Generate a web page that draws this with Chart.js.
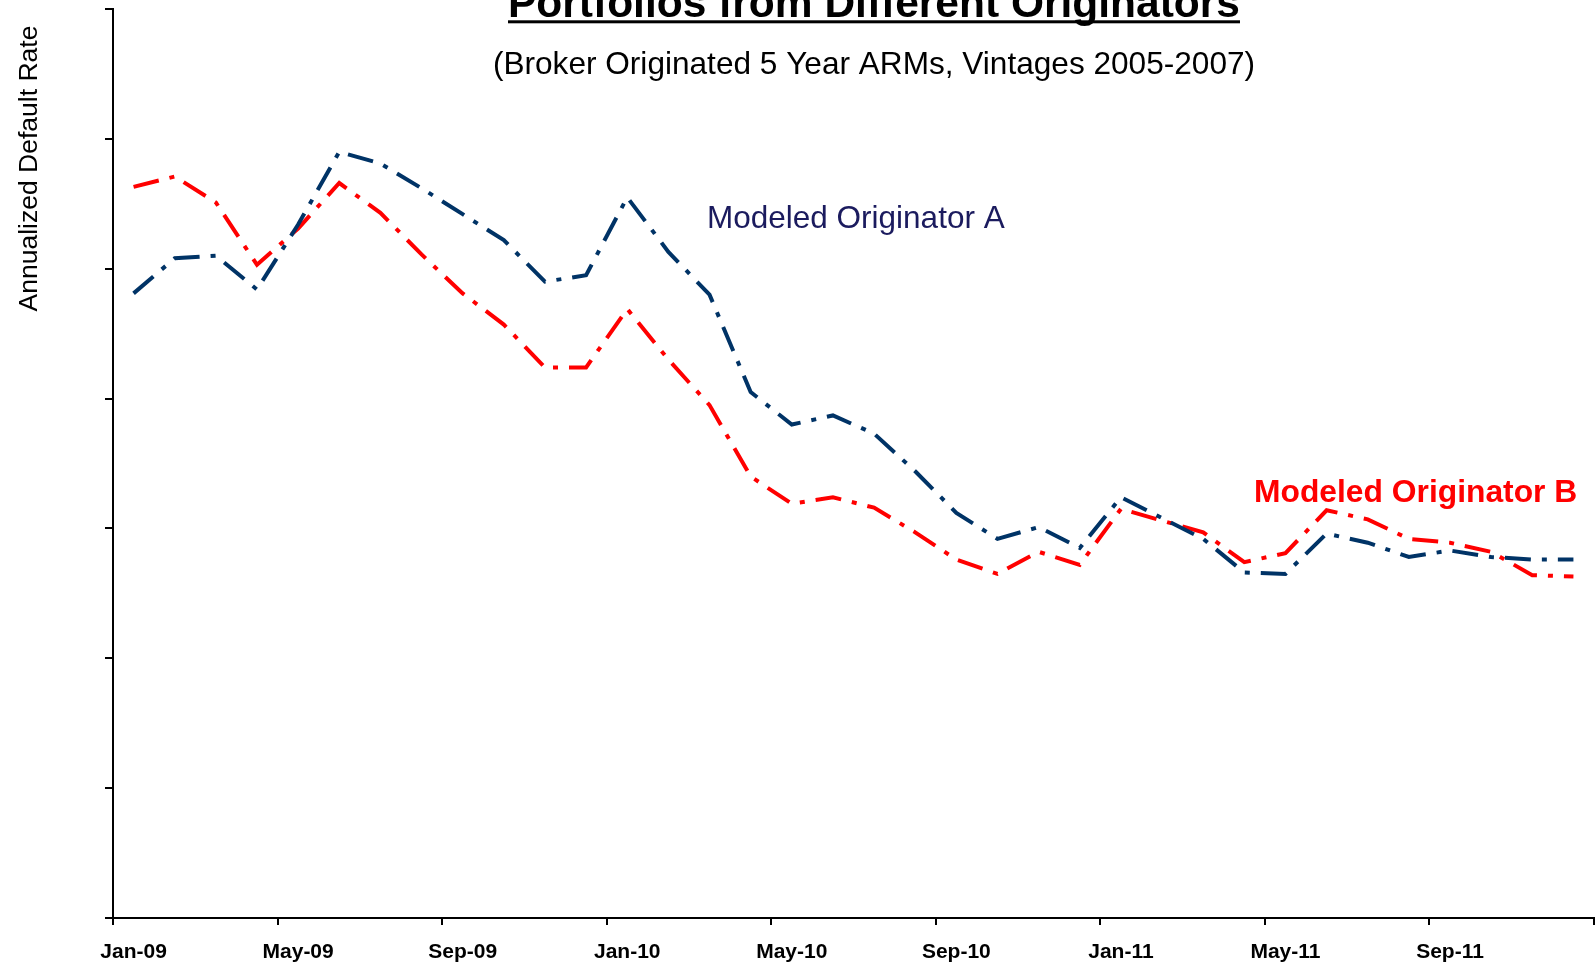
<!DOCTYPE html>
<html>
<head>
<meta charset="utf-8">
<script src="https://cdn.jsdelivr.net/npm/chart.js@4/dist/chart.umd.min.js"></script>
<style>
  html, body { margin: 0; padding: 0; background: #fff; overflow: hidden; }
  canvas { display: block; }
</style>
</head>
<body>
<canvas id="c" width="1595" height="972"></canvas>
<script>
const months = [
  'Jan-09','Feb-09','Mar-09','Apr-09','May-09','Jun-09','Jul-09','Aug-09','Sep-09','Oct-09','Nov-09','Dec-09',
  'Jan-10','Feb-10','Mar-10','Apr-10','May-10','Jun-10','Jul-10','Aug-10','Sep-10','Oct-10','Nov-10','Dec-10',
  'Jan-11','Feb-11','Mar-11','Apr-11','May-11','Jun-11','Jul-11','Aug-11','Sep-11','Oct-11','Nov-11','Dec-11'
];
// Values (axis has no numeric labels; units = tick steps)
const originatorA = [
  4.81, 5.08, 5.10, 4.84, 5.34, 5.90, 5.81, 5.62, 5.42, 5.22, 4.90, 4.95,
  5.55, 5.13, 4.80, 4.05, 3.80, 3.87, 3.73, 3.44, 3.12, 2.92, 3.01, 2.85,
  3.24, 3.08, 2.92, 2.66, 2.65, 2.96, 2.89, 2.78, 2.83, 2.78, 2.76, 2.76
];
const originatorB = [
  5.63, 5.71, 5.51, 5.03, 5.31, 5.66, 5.43, 5.11, 4.81, 4.57, 4.24, 4.24,
  4.69, 4.30, 3.95, 3.40, 3.19, 3.24, 3.16, 2.97, 2.76, 2.65, 2.82, 2.72,
  3.15, 3.06, 2.97, 2.74, 2.81, 3.14, 3.07, 2.92, 2.89, 2.82, 2.64, 2.63
];
const yTicks = [0, 1, 2, 3, 4, 5, 6, 7];
const labelEvery = 4;

const FONT = '"Liberation Sans", Arial, sans-serif';

const textPlugin = {
  id: 'texts',
  afterDraw(chart) {
    const ctx = chart.ctx;
    ctx.save();
    // Title (cut off at the top)
    ctx.fillStyle = '#000';
    ctx.textAlign = 'center';
    ctx.textBaseline = 'alphabetic';
    ctx.font = 'bold 42.5px ' + FONT;
    const title = 'Portfolios from Different Originators';
    ctx.fillText(title, 874, 16.5);
    const tw = ctx.measureText(title).width;
    ctx.fillRect(874 - tw / 2, 20.3, tw, 3);
    // Subtitle
    ctx.font = '31.6px ' + FONT;
    ctx.fillText('(Broker Originated 5 Year ARMs, Vintages 2005-2007)', 874, 74);
    // Y axis title
    ctx.save();
    ctx.translate(29.5, 168.5);
    ctx.rotate(-Math.PI / 2);
    ctx.textBaseline = 'middle';
    ctx.font = '26.5px ' + FONT;
    ctx.fillText('Annualized Default Rate', 0, 0);
    ctx.restore();
    // Series annotations
    ctx.textAlign = 'left';
    ctx.textBaseline = 'alphabetic';
    ctx.fillStyle = '#1b1b5e';
    ctx.font = '31.5px ' + FONT;
    ctx.fillText('Modeled Originator A', 707, 228);
    ctx.fillStyle = '#ff0000';
    ctx.font = 'bold 31.8px ' + FONT;
    ctx.fillText('Modeled Originator B', 1254, 502);
    ctx.restore();
  }
};

new Chart(document.getElementById('c'), {
  type: 'line',
  data: {
    labels: months,
    datasets: [
      {
        label: 'Modeled Originator A',
        data: originatorA,
        borderColor: '#003366',
        borderWidth: 4,
        borderDash: [26, 11, 5, 11],
        borderCapStyle: 'butt',
        pointRadius: 0,
        tension: 0,
        fill: false
      },
      {
        label: 'Modeled Originator B',
        data: originatorB,
        borderColor: '#ff0000',
        borderWidth: 4,
        borderDash: [26, 11, 5, 11],
        borderCapStyle: 'butt',
        pointRadius: 0,
        tension: 0,
        fill: false
      }
    ]
  },
  options: {
    responsive: false,
    animation: false,
    devicePixelRatio: 1,
    layout: { padding: { top: 9, right: 1, bottom: 0, left: 0 } },
    plugins: {
      legend: { display: false },
      tooltip: { enabled: false },
      title: { display: false }
    },
    scales: {
      x: {
        type: 'category',
        offset: true,
        grid: {
          offset: true,
          drawOnChartArea: false,
          drawTicks: true,
          tickLength: 7,
          lineWidth: 2,
          color: (c) => (c.index === undefined || c.index % labelEvery === 0) ? '#000' : 'rgba(0,0,0,0)'
        },
        border: { display: true, color: '#000', width: 2 },
        ticks: {
          autoSkip: false,
          maxRotation: 0,
          minRotation: 0,
          padding: 15,
          color: '#000',
          font: { family: FONT, size: 21, weight: 'bold' },
          callback: function (value, index) {
            return index % labelEvery === 0 ? this.getLabelForValue(value) : '';
          }
        },
        afterFit: (s) => { s.height = 54; }
      },
      y: {
        type: 'linear',
        min: yTicks[0],
        max: yTicks[yTicks.length - 1],
        afterBuildTicks: (s) => { s.ticks = yTicks.map(v => ({ value: v })); },
        grid: {
          drawOnChartArea: false,
          drawTicks: true,
          tickLength: 8,
          lineWidth: 2,
          color: '#000'
        },
        border: { display: true, color: '#000', width: 2 },
        ticks: { display: false },
        afterFit: (s) => { s.width = 113; }
      }
    }
  },
  plugins: [textPlugin]
});
</script>
</body>
</html>
